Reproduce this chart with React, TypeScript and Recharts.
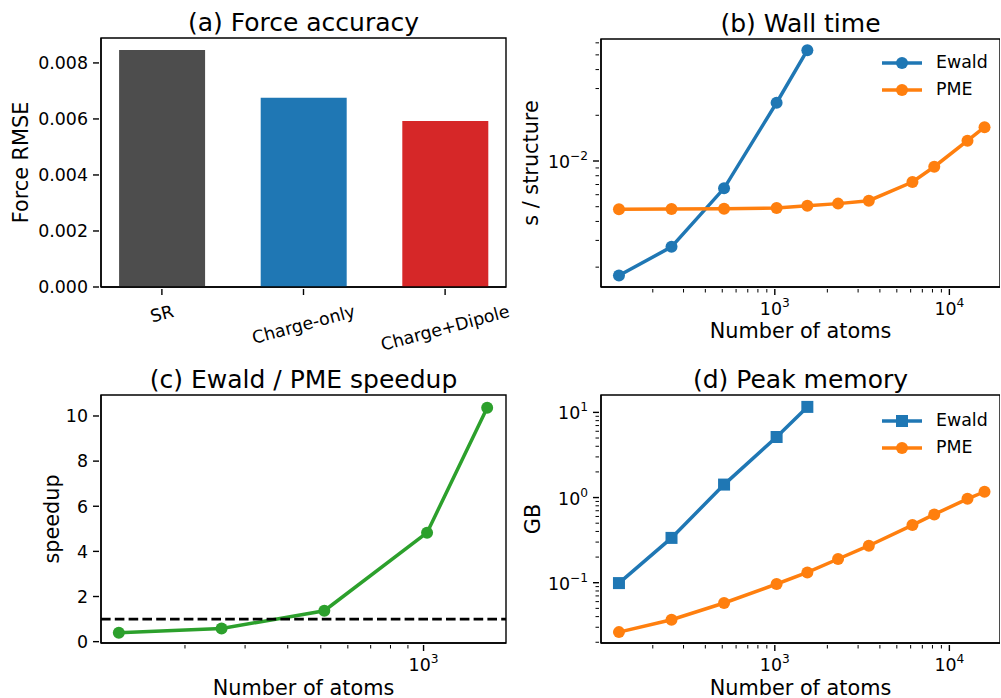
import React from "react";
import {
  Bar,
  BarChart,
  Cell,
  Legend,
  Line,
  LineChart,
  ReferenceArea,
  ReferenceLine,
  XAxis,
  YAxis,
} from "recharts";

// (a) force accuracy
const methods = ["SR", "Charge-only", "Charge+Dipole"];
const forceRmse = [0.00846, 0.00676, 0.00593];
const methodColors = ["#4d4d4d", "#1f77b4", "#d62728"];
const rmseTicks = [0, 0.002, 0.004, 0.006, 0.008];

// (b) wall time, (d) peak memory
const ewaldAtoms = [128, 256, 512, 1024, 1536];
const pmeAtoms = [128, 256, 512, 1024, 1536, 2304, 3456, 6144, 8192, 12700, 15900];
const ewaldTime = [0.00176, 0.00272, 0.00661, 0.0242, 0.0537];
const pmeTime = [0.00481, 0.00483, 0.00485, 0.0049, 0.00508, 0.00524, 0.00548, 0.00727, 0.00917, 0.0136, 0.0167];
const ewaldMemory = [0.099, 0.336, 1.42, 5.14, 11.6];
const pmeMemory = [0.0263, 0.0368, 0.0578, 0.0966, 0.132, 0.19, 0.272, 0.475, 0.634, 0.966, 1.17];

// (c) speedup
const speedup = [0.39, 0.58, 1.37, 4.83, 10.36];
const speedupTicks = [0, 2, 4, 6, 8, 10];

// log axis ticks (decades get a 10^n label, the rest are minor)
const atomTicksWide = [200, 300, 400, 500, 600, 700, 800, 900, 1000, 2000, 3000, 4000, 5000, 6000, 7000, 8000, 9000, 10000];
const atomTicksNarrow = [200, 300, 400, 500, 600, 700, 800, 900, 1000];
const timeTicks = [0.002, 0.003, 0.004, 0.005, 0.006, 0.007, 0.008, 0.009, 0.01, 0.02, 0.03, 0.04, 0.05, 0.06];
const memoryTicks = [
  0.02, 0.03, 0.04, 0.05, 0.06, 0.07, 0.08, 0.09, 0.1,
  0.2, 0.3, 0.4, 0.5, 0.6, 0.7, 0.8, 0.9, 1,
  2, 3, 4, 5, 6, 7, 8, 9, 10,
];

const BLUE = "#1f77b4";
const ORANGE = "#ff7f0e";
const GREEN = "#2ca02c";
const TICK_FONT = 17.4;
const LABEL_FONT = 20.8;
const TITLE_FONT = 25;
const AXIS_LINE = { stroke: "#000", strokeWidth: 1.4 };

const barRows = methods.map((name, i) => ({ idx: i, name, rmse: forceRmse[i] }));
const timeEwaldRows = ewaldAtoms.map((n, i) => ({ n, y: ewaldTime[i] }));
const timePmeRows = pmeAtoms.map((n, i) => ({ n, y: pmeTime[i] }));
const memEwaldRows = ewaldAtoms.map((n, i) => ({ n, y: ewaldMemory[i] }));
const memPmeRows = pmeAtoms.map((n, i) => ({ n, y: pmeMemory[i] }));
const speedupRows = ewaldAtoms.map((n, i) => ({ n, y: speedup[i] }));

const measureCtx =
  typeof document !== "undefined" ? document.createElement("canvas").getContext("2d") : null;
function textWidth(s: string, size: number) {
  if (!measureCtx) return s.length * size * 0.6;
  measureCtx.font = `${size}px "DejaVu Sans"`;
  return measureCtx.measureText(s).width;
}

function isDecade(v: number) {
  const lg = Math.log10(v);
  return Math.abs(lg - Math.round(lg)) < 1e-6;
}

function expText(v: number) {
  const e = Math.round(Math.log10(v));
  return e < 0 ? `\u2212${-e}` : `${e}`;
}

function LogXTick(props: any) {
  const { x, y, payload } = props;
  const major = isDecade(payload.value);
  return (
    <g>
      <line x1={x} x2={x} y1={y} y2={y + (major ? 6 : 3.5)} stroke="#000" strokeWidth={major ? 1.4 : 1} />
      {major && (
        <text x={x} y={y + 26} textAnchor="middle" fontSize={TICK_FONT} fill="#000">
          <tspan>10</tspan>
          <tspan dy={-8} fontSize={12.2}>{expText(payload.value)}</tspan>
        </text>
      )}
    </g>
  );
}

function LogYTick(props: any) {
  const { x, y, payload } = props;
  const major = isDecade(payload.value);
  return (
    <g>
      <line x1={x - (major ? 6 : 3.5)} x2={x} y1={y} y2={y} stroke="#000" strokeWidth={major ? 1.4 : 1} />
      {major && (
        <text x={x - 11} y={y + 7} textAnchor="end" fontSize={TICK_FONT} fill="#000">
          <tspan>10</tspan>
          <tspan dy={-8} fontSize={12.2}>{expText(payload.value)}</tspan>
        </text>
      )}
    </g>
  );
}

function linearYTick(digits: number) {
  return (props: any) => {
    const { x, y, payload } = props;
    return (
      <g>
        <line x1={x - 6} x2={x} y1={y} y2={y} stroke="#000" strokeWidth={1.4} />
        <text x={x - 11} y={y + 6.3} textAnchor="end" fontSize={TICK_FONT} fill="#000">
          {Number(payload.value).toFixed(digits)}
        </text>
      </g>
    );
  };
}

function MethodTick(props: any) {
  const { x, y, payload } = props;
  const label = methods[payload.value] ?? "";
  const w = textWidth(label, TICK_FONT);
  const h = TICK_FONT * 1.164;
  const rad = (15 * Math.PI) / 180;
  const off = 12 + (w * Math.sin(rad) + h * Math.cos(rad)) / 2;
  return (
    <g>
      <line x1={x} x2={x} y1={y} y2={y + 6} stroke="#000" strokeWidth={1.4} />
      <text
        x={0}
        y={0}
        textAnchor="middle"
        dominantBaseline="central"
        fontSize={TICK_FONT}
        fill="#000"
        transform={`translate(${x},${y + off}) rotate(-15)`}
      >
        {label}
      </text>
    </g>
  );
}

function squareDot(color: string) {
  return (p: any) => {
    if (p.cx == null || p.cy == null) return <g key={p.key ?? p.index} />;
    return <rect key={p.key ?? p.index} x={p.cx - 6} y={p.cy - 6} width={12} height={12} fill={color} />;
  };
}

function legendContent(markers: Record<string, "circle" | "square">) {
  return ({ payload }: any) => (
    <div style={{ fontFamily: "'DejaVu Sans', sans-serif" }}>
      {(payload || []).map((entry: any) => (
        <div key={entry.value} style={{ display: "flex", alignItems: "center", height: 27 }}>
          <svg width={40} height={14} style={{ display: "block" }}>
            <line x1={0} x2={40} y1={7} y2={7} stroke={entry.color} strokeWidth={3.5} />
            {markers[entry.value] === "square" ? (
              <rect x={14} y={1} width={12} height={12} fill={entry.color} />
            ) : (
              <circle cx={20} cy={7} r={6} fill={entry.color} />
            )}
          </svg>
          <span style={{ marginLeft: 14, fontSize: TICK_FONT, color: "#000", lineHeight: 1 }}>{entry.value}</span>
        </div>
      ))}
    </div>
  );
}

// full box around the plot area, drawn over the whole domain
function frame(x: [number, number], y: [number, number]) {
  return (
    <ReferenceArea
      x1={x[0]}
      x2={x[1]}
      y1={y[0]}
      y2={y[1]}
      fill="none"
      fillOpacity={0}
      stroke="#000"
      strokeWidth={1.4}
      ifOverflow="visible"
    />
  );
}

const panel = (left: number, top: number): React.CSSProperties => ({ position: "absolute", left, top });

export default function App() {
  const atomsDomain: [number, number] = [101, 19500];
  const barX: [number, number] = [-0.43, 2.43];
  const rmseY: [number, number] = [0, 0.00889];
  const timeY: [number, number] = [0.00148, 0.0636];
  const speedX: [number, number] = [113.5, 1744];
  const speedY: [number, number] = [-0.06, 10.93];
  const memY: [number, number] = [0.0196, 16];
  return (
    <div
      style={{
        position: "absolute",
        left: 0,
        top: 0,
        width: 1001,
        height: 698,
        background: "#fff",
        fontFamily: "'DejaVu Sans', sans-serif",
        overflow: "hidden",
      }}
    >
      {/* (a) Force accuracy */}
      <div style={panel(0, 0)}>
        <BarChart width={520} height={360} data={barRows} margin={{ top: 38, right: 14, bottom: 0, left: 0 }}>
          <XAxis
            dataKey="idx"
            type="number"
            domain={barX}
            allowDataOverflow
            ticks={[0, 1, 2]}
            interval={0}
            height={73}
            tickSize={0}
            tickLine={false}
            axisLine={AXIS_LINE}
            tick={<MethodTick />}
          />
          <YAxis
            type="number"
            domain={rmseY}
            allowDataOverflow
            ticks={rmseTicks}
            interval={0}
            width={101}
            tickSize={0}
            tickLine={false}
            axisLine={AXIS_LINE}
            tick={linearYTick(3)}
          />
          <Bar dataKey="rmse" barSize={86} isAnimationActive={false}>
            {barRows.map((r, i) => (
              <Cell key={r.name} fill={methodColors[i]} />
            ))}
          </Bar>
          {frame(barX, rmseY)}
        </BarChart>
      </div>

      {/* (b) Wall time */}
      <div style={panel(520, 0)}>
        <LineChart width={480} height={360} margin={{ top: 39, right: 0, bottom: 0, left: 0 }}>
          <XAxis
            dataKey="n"
            type="number"
            scale="log"
            domain={atomsDomain}
            allowDataOverflow
            ticks={atomTicksWide}
            interval={0}
            height={73}
            tickSize={0}
            tickLine={false}
            axisLine={AXIS_LINE}
            tick={<LogXTick />}
          />
          <YAxis
            type="number"
            scale="log"
            domain={timeY}
            allowDataOverflow
            ticks={timeTicks}
            interval={0}
            width={81}
            tickSize={0}
            tickLine={false}
            axisLine={AXIS_LINE}
            tick={<LogYTick />}
          />
          <Legend
            layout="vertical"
            align="center"
            verticalAlign="middle"
            wrapperStyle={{ left: 362, top: 49.5, width: "auto", height: "auto" }}
            content={legendContent({ Ewald: "circle", PME: "circle" })}
          />
          <Line data={timeEwaldRows} dataKey="y" name="Ewald" stroke={BLUE} strokeWidth={3.5} dot={{ r: 6, fill: BLUE, stroke: BLUE, strokeWidth: 0 }} activeDot={false} isAnimationActive={false} />
          <Line data={timePmeRows} dataKey="y" name="PME" stroke={ORANGE} strokeWidth={3.5} dot={{ r: 6, fill: ORANGE, stroke: ORANGE, strokeWidth: 0 }} activeDot={false} isAnimationActive={false} />
          {frame(atomsDomain, timeY)}
        </LineChart>
      </div>

      {/* (c) Ewald / PME speedup */}
      <div style={panel(0, 360)}>
        <LineChart width={520} height={338} data={speedupRows} margin={{ top: 35, right: 14, bottom: 0, left: 0 }}>
          <XAxis
            dataKey="n"
            type="number"
            scale="log"
            domain={speedX}
            allowDataOverflow
            ticks={atomTicksNarrow}
            interval={0}
            height={55}
            tickSize={0}
            tickLine={false}
            axisLine={AXIS_LINE}
            tick={<LogXTick />}
          />
          <YAxis
            type="number"
            domain={speedY}
            allowDataOverflow
            ticks={speedupTicks}
            interval={0}
            width={101}
            tickSize={0}
            tickLine={false}
            axisLine={AXIS_LINE}
            tick={linearYTick(0)}
          />
          <Line dataKey="y" stroke={GREEN} strokeWidth={3.5} dot={{ r: 6, fill: GREEN, stroke: GREEN, strokeWidth: 0 }} activeDot={false} isAnimationActive={false} />
          <ReferenceLine y={1} stroke="#000" strokeWidth={2.6} strokeDasharray="9.6 4.2" />
          {frame(speedX, speedY)}
        </LineChart>
      </div>

      {/* (d) Peak memory */}
      <div style={panel(520, 360)}>
        <LineChart width={480} height={338} margin={{ top: 35, right: 0, bottom: 0, left: 0 }}>
          <XAxis
            dataKey="n"
            type="number"
            scale="log"
            domain={atomsDomain}
            allowDataOverflow
            ticks={atomTicksWide}
            interval={0}
            height={55}
            tickSize={0}
            tickLine={false}
            axisLine={AXIS_LINE}
            tick={<LogXTick />}
          />
          <YAxis
            type="number"
            scale="log"
            domain={memY}
            allowDataOverflow
            ticks={memoryTicks}
            interval={0}
            width={81}
            tickSize={0}
            tickLine={false}
            axisLine={AXIS_LINE}
            tick={<LogYTick />}
          />
          <Legend
            layout="vertical"
            align="center"
            verticalAlign="middle"
            wrapperStyle={{ left: 362, top: 47, width: "auto", height: "auto" }}
            content={legendContent({ Ewald: "square", PME: "circle" })}
          />
          <Line data={memEwaldRows} dataKey="y" name="Ewald" stroke={BLUE} strokeWidth={3.5} dot={squareDot(BLUE)} activeDot={false} isAnimationActive={false} />
          <Line data={memPmeRows} dataKey="y" name="PME" stroke={ORANGE} strokeWidth={3.5} dot={{ r: 6, fill: ORANGE, stroke: ORANGE, strokeWidth: 0 }} activeDot={false} isAnimationActive={false} />
          {frame(atomsDomain, memY)}
        </LineChart>
      </div>

      {/* titles and axis labels */}
      <svg width={1001} height={698} style={{ position: "absolute", left: 0, top: 0, pointerEvents: "none" }}>
        <g fill="#000" fontSize={TITLE_FONT} textAnchor="middle">
          <text x={303.5} y={30.5}>(a) Force accuracy</text>
          <text x={800.5} y={31.5}>(b) Wall time</text>
          <text x={303.5} y={387.5}>(c) Ewald / PME speedup</text>
          <text x={800.5} y={387.5}>(d) Peak memory</text>
        </g>
        <g fill="#000" fontSize={LABEL_FONT} textAnchor="middle">
          <text transform="translate(28,162.5) rotate(-90)">Force RMSE</text>
          <text transform="translate(537.5,163) rotate(-90)">s / structure</text>
          <text transform="translate(58.5,519) rotate(-90)">speedup</text>
          <text transform="translate(539.5,519) rotate(-90)">GB</text>
          <text x={800.5} y={338}>Number of atoms</text>
          <text x={303.5} y={695}>Number of atoms</text>
          <text x={800.5} y={695}>Number of atoms</text>
        </g>
      </svg>
    </div>
  );
}
